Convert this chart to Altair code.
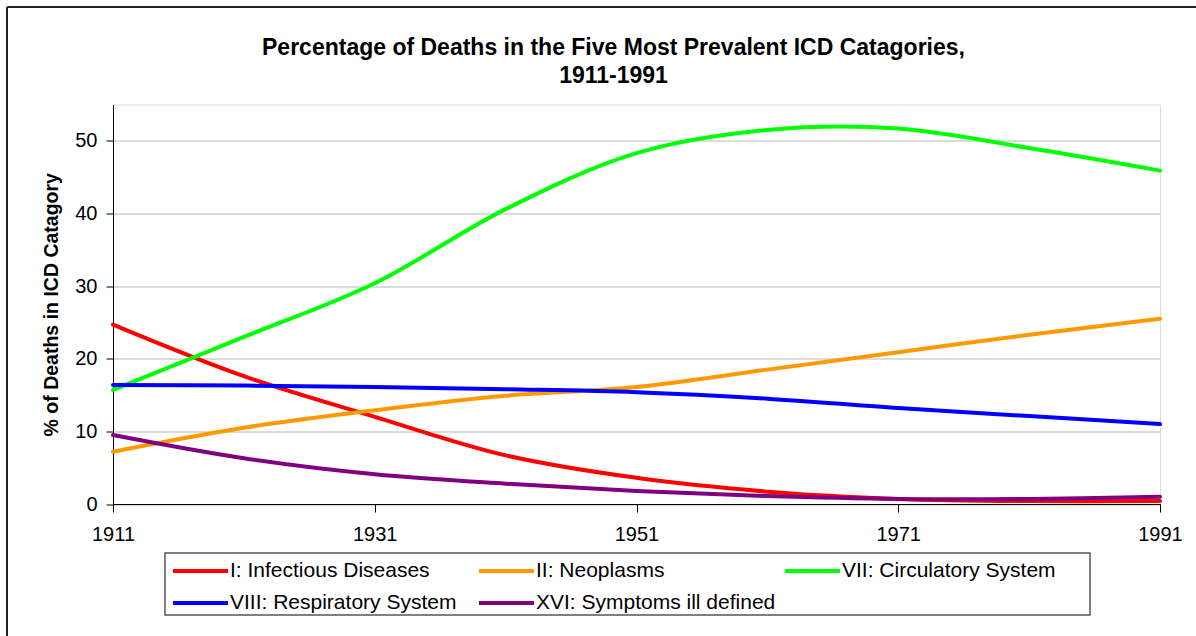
import altair as alt
import pandas as pd

years = [1911, 1921, 1931, 1941, 1951, 1961, 1971, 1981, 1991]
infectious = [24.7, 17.6, 12.0, 6.7, 3.6, 1.7, 0.7, 0.4, 0.4]
neoplasms = [7.2, 10.5, 12.9, 14.9, 16.1, 18.5, 20.9, 23.3, 25.5]
circulatory = [15.7, 23.0, 30.4, 40.6, 48.3, 51.5, 51.7, 49.0, 45.9]
respiratory = [16.4, 16.3, 16.1, 15.8, 15.4, 14.5, 13.2, 12.1, 11.0]
symptoms = [9.5, 6.3, 4.1, 2.8, 1.8, 1.1, 0.7, 0.7, 1.0]

series_names = [
    "I: Infectious Diseases",
    "II: Neoplasms",
    "VII: Circulatory System",
    "VIII: Respiratory System",
    "XVI: Symptoms ill defined",
]
series_values = [infectious, neoplasms, circulatory, respiratory, symptoms]
series_colors = ["#FF0000", "#FF9900", "#00FF00", "#0000FF", "#800080"]

x_ticks = [1911, 1931, 1951, 1971, 1991]
y_ticks = [0, 10, 20, 30, 40, 50]

rows = []
for name, vals in zip(series_names, series_values):
    for i, (yr, v) in enumerate(zip(years, vals)):
        rows.append({"Year": yr, "Value": v, "Series": name, "order": i})
df = pd.DataFrame(rows)

FONT = "Liberation Sans"
W, H = 1047, 399.5

lines = alt.Chart(df).mark_line(
    interpolate="catmull-rom", strokeWidth=4, strokeCap="round"
).encode(
    x=alt.X(
        "Year:Q",
        scale=alt.Scale(domain=[1911, 1991], nice=False, zero=False),
        axis=alt.Axis(
            values=x_ticks, format="d", title=None, grid=False,
            labelFontSize=20, labelFont=FONT, labelColor="black",
            domainColor="black", tickColor="black", tickSize=8,
            labelPadding=12, labelFlush=False,
        ),
    ),
    y=alt.Y(
        "Value:Q",
        scale=alt.Scale(domain=[0, 55], nice=False),
        axis=alt.Axis(
            values=y_ticks, title="% of Deaths in ICD Catagory",
            titleFontSize=19.5, titleFont=FONT, titleFontWeight="bold",
            titleColor="black", titlePadding=13,
            labelFontSize=20, labelFont=FONT, labelColor="black",
            domainColor="black", tickColor="black", tickSize=7,
            labelPadding=9, gridColor="#cfcfcf", gridWidth=1.5,
        ),
    ),
    color=alt.Color(
        "Series:N",
        sort=series_names,
        scale=alt.Scale(domain=series_names, range=series_colors),
        legend=alt.Legend(
            title=None, orient="none", legendX=52, legendY=450.5,
            direction="horizontal", columns=3, gridAlign="all",
            columnPadding=7, rowPadding=11, clipHeight=20,
            symbolType="stroke", symbolSize=3025, symbolStrokeWidth=4,
            labelFontSize=21, labelFont=FONT, labelColor="black",
            labelOffset=0, labelLimit=400,
            strokeColor="transparent", padding=6,
        ),
    ),
    order="order:Q",
)

legend_box = alt.Chart().mark_rect(
    fill="white", stroke="#555555", strokeWidth=1.5
).encode(
    x=alt.value(52), x2=alt.value(977), y=alt.value(448.5), y2=alt.value(510.5)
)

frame_top = alt.Chart().mark_rule(color="#222222", strokeWidth=2).encode(
    x=alt.value(-106), x2=alt.value(1090), y=alt.value(-97.5)
)
frame_left = alt.Chart().mark_rule(color="#222222", strokeWidth=2).encode(
    x=alt.value(-106), y=alt.value(-97.5), y2=alt.value(540)
)

chart = alt.layer(legend_box, lines, frame_top, frame_left).properties(
    width=W, height=H,
    title=alt.TitleParams(
        text=["Percentage of Deaths in the Five Most Prevalent ICD Catagories,", "1911-1991"],
        fontSize=23, font=FONT, fontWeight="bold", color="black",
        lineHeight=28, anchor="middle", frame="group", dx=-23, offset=18, dy=100,
    ),
    autosize=alt.AutoSizeParams(type="none"),
    padding={"left": 113, "top": 104.5, "right": 36, "bottom": 132},
).configure_view(strokeOpacity=0).configure(background="white")

chart.save("out.html", embed_options={"renderer": "svg", "actions": False})
